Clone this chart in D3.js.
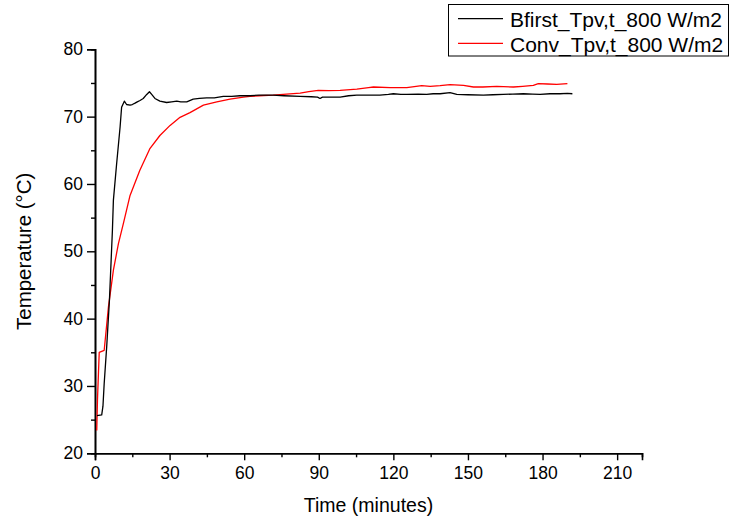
<!DOCTYPE html>
<html>
<head>
<meta charset="utf-8">
<script src="https://cdn.jsdelivr.net/npm/d3@7/dist/d3.min.js"></script>
<style>
  html, body { margin: 0; padding: 0; background: #fff; }
  svg { display: block; font-family: "Liberation Sans", Arial, sans-serif; }
</style>
</head>
<body>
<svg id="chart" width="729" height="519"></svg>
<script>
// ---- data ----
const seriesNames = ["Bfirst_Tpv,t_800 W/m2", "Conv_Tpv,t_800 W/m2"];
const seriesColors = ["#000000", "#ff0000"];

const bfirstTime = [0.8, 2.7, 3.2, 3.7, 4.7, 5.8, 7.0, 7.4, 8.7, 10.1, 10.7, 11.8, 12.7, 14.1, 15.0, 16.1, 17.0, 18.1, 19.4, 20.8, 21.9, 22.8, 24.1, 26.1, 28.8, 30.8, 32.9, 34.5, 36.9, 39.5, 42, 44.9, 48, 51.6, 55, 58.3, 62.3, 66, 71.7, 76, 82.5, 87, 89.5, 90.5, 91.5, 95, 98.6, 102, 105.3, 110, 114.6, 118, 120, 123, 125.4, 130, 133.4, 136, 138.8, 142.8, 145.5, 150, 156.2, 160, 164.2, 168, 172.3, 176, 179, 183, 187, 190, 192];
const bfirstTemp = [25.6, 25.7, 27.0, 30.4, 35.8, 42.7, 53.1, 57.6, 63.0, 68.5, 71.4, 72.3, 71.8, 71.7, 71.8, 72.0, 72.2, 72.4, 72.7, 73.3, 73.7, 73.3, 72.7, 72.3, 72.1, 72.2, 72.3, 72.2, 72.2, 72.6, 72.7, 72.8, 72.8, 73.0, 73.0, 73.1, 73.1, 73.2, 73.2, 73.1, 73.0, 72.95, 72.9, 72.7, 72.9, 72.9, 72.9, 73.1, 73.2, 73.2, 73.2, 73.3, 73.4, 73.3, 73.3, 73.35, 73.3, 73.4, 73.4, 73.57, 73.3, 73.25, 73.2, 73.25, 73.3, 73.35, 73.4, 73.35, 73.3, 73.4, 73.4, 73.45, 73.4];

const convTime = [0.7, 1.0, 1.7, 3.7, 5.4, 7.4, 9.4, 11.4, 14.1, 18, 22, 26.1, 30.2, 34.2, 38.2, 43.6, 49, 54.3, 59.7, 62.3, 66, 71.7, 77, 82.5, 86, 89.8, 94, 98.6, 105.3, 110, 112, 118.7, 125.4, 131.4, 134.8, 138.8, 142.8, 148.2, 152.2, 156, 161.6, 168.3, 172, 176.3, 178.3, 182, 185.7, 190];
const convTemp = [23.4, 28.0, 35.0, 35.3, 41.7, 47.2, 51.1, 54.1, 58.3, 62.0, 65.2, 67.2, 68.7, 69.9, 70.6, 71.7, 72.2, 72.6, 72.9, 73.0, 73.1, 73.2, 73.35, 73.5, 73.7, 73.9, 73.85, 73.9, 74.1, 74.3, 74.4, 74.3, 74.3, 74.6, 74.5, 74.6, 74.75, 74.65, 74.4, 74.4, 74.5, 74.4, 74.5, 74.65, 74.9, 74.85, 74.8, 74.9];

const xTicks = [0, 30, 60, 90, 120, 150, 180, 210];
const xMinorTicks = [15, 45, 75, 105, 135, 165, 195];
const yTicks = [20, 30, 40, 50, 60, 70, 80];
const yMinorTicks = [25, 35, 45, 55, 65, 75];
const xTitle = "Time (minutes)";
const yTitle = "Temperature (°C)";

// ---- layout ----
const svg = d3.select("#chart");
const mLeft = 95, mRight = 642, mTop = 49.3, mBottom = 453.3;

const x = d3.scaleLinear().domain([0, 220]).range([mLeft, mRight]);
const y = d3.scaleLinear().domain([20, 80]).range([mBottom, mTop]);

// axes
const xAxis = d3.axisBottom(x).tickValues(xTicks).tickSize(7).tickPadding(6).tickFormat(d3.format("d"));
const xMinor = d3.axisBottom(x).tickValues(xMinorTicks).tickSize(4).tickFormat("");
const yAxis = d3.axisLeft(y).tickValues(yTicks).tickSize(8).tickPadding(4).tickFormat(d3.format("d"));
const yMinor = d3.axisLeft(y).tickValues(yMinorTicks).tickSize(4).tickFormat("");

function styleAxis(g) {
  g.select(".domain").attr("stroke", "#000").attr("stroke-width", 1.6);
  g.selectAll(".tick line").attr("stroke", "#000").attr("stroke-width", 1.4);
  g.selectAll(".tick text").attr("fill", "#000").style("font-size", "17.5px")
    .style("font-family", "'Liberation Sans', Arial, sans-serif");
}

svg.append("g").attr("transform", `translate(0,${mBottom})`).call(xMinor).call(styleAxis);
svg.append("g").attr("transform", `translate(0,${mBottom})`).call(xAxis).call(styleAxis);
svg.append("g").attr("transform", `translate(${mLeft},0)`).call(yMinor).call(styleAxis);
svg.append("g").attr("transform", `translate(${mLeft},0)`).call(yAxis).call(styleAxis);

// axis titles
svg.append("text")
  .attr("x", (mLeft + mRight) / 2).attr("y", 512)
  .attr("text-anchor", "middle")
  .style("font-size", "19.5px").attr("fill", "#000")
  .text(xTitle);
svg.append("text")
  .attr("transform", `translate(31,${(mTop + mBottom) / 2 + 0}) rotate(-90)`)
  .attr("text-anchor", "middle")
  .style("font-size", "20.5px").attr("fill", "#000")
  .text(yTitle);

// lines
const line = d3.line().x(d => x(d[0])).y(d => y(d[1]));
const seriesData = [
  d3.zip(bfirstTime, bfirstTemp),
  d3.zip(convTime, convTemp)
];
[1, 0].forEach(i => {
  svg.append("path")
    .datum(seriesData[i])
    .attr("fill", "none")
    .attr("stroke", seriesColors[i])
    .attr("stroke-width", 1.3)
    .attr("stroke-linejoin", "round")
    .attr("d", line);
});

// legend
const lg = svg.append("g");
lg.append("rect")
  .attr("x", 448.5).attr("y", 4.5).attr("width", 280).attr("height", 51.5)
  .attr("fill", "#fff").attr("stroke", "#000").attr("stroke-width", 1);
const legendRowsY = [18.7, 43.3];
seriesNames.forEach((name, i) => {
  lg.append("line")
    .attr("x1", 458).attr("x2", 503)
    .attr("y1", legendRowsY[i]).attr("y2", legendRowsY[i])
    .attr("stroke", seriesColors[i]).attr("stroke-width", 1.3);
  lg.append("text")
    .attr("x", 510).attr("y", legendRowsY[i] + 8.3)
    .style("font-size", "21px").attr("fill", "#000")
    .text(name);
});
</script>
</body>
</html>
